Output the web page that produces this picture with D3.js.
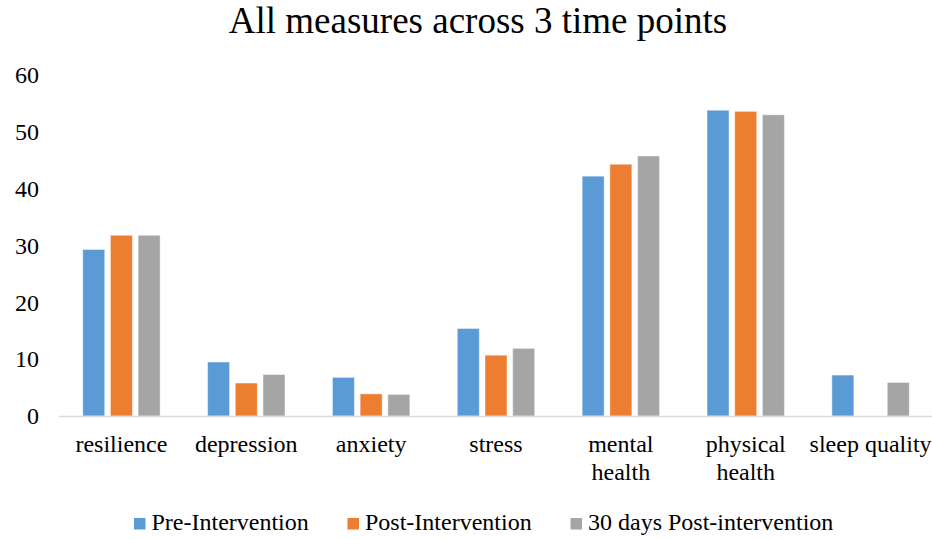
<!DOCTYPE html>
<html>
<head>
<meta charset="utf-8">
<script src="https://cdn.jsdelivr.net/npm/d3@7"></script>
<style>
  html, body { margin: 0; padding: 0; background: #fff; }
  svg { display: block; }
  svg text { font-family: "Liberation Serif", "Times New Roman", serif !important; }
</style>
</head>
<body>
<svg id="chart" width="932" height="539"></svg>
<script>
const title = "All measures across 3 time points";
const categories = ["resilience", "depression", "anxiety", "stress", "mental health", "physical health", "sleep quality"];
const seriesNames = ["Pre-Intervention", "Post-Intervention", "30 days Post-intervention"];
const preValues = [29.3, 9.5, 6.8, 15.4, 42.2, 53.8, 7.2];
const postValues = [31.8, 5.8, 3.9, 10.7, 44.3, 53.6, 0];
const followValues = [31.8, 7.3, 3.8, 11.9, 45.75, 53.0, 5.9];
const yTicks = [0, 10, 20, 30, 40, 50, 60];
const colors = ["#5B9BD5", "#ED7D31", "#A5A5A5"];

const seriesValues = [preValues, postValues, followValues];
const FONT = '"Liberation Serif", "Times New Roman", serif';

const svg = d3.select("#chart");

const x0 = d3.scaleBand().domain(categories).range([59, 933]).padding(0);
const groupW = 77.4;
const x1 = d3.scaleBand().domain(seriesNames).range([0, groupW]).paddingInner(0.206).paddingOuter(0);
const y = d3.scaleLinear().domain([0, 60]).range([416, 75]);

// title
svg.append("text")
  .attr("x", 478).attr("y", 33)
  .attr("text-anchor", "middle")
  .style("font-family", FONT)
  .style("font-size", "37px")
  .attr("fill", "#000")
  .text(title);

// y tick labels
const yAxis = d3.axisLeft(y).tickValues(yTicks).tickSize(0).tickPadding(0);
const yg = svg.append("g").attr("transform", "translate(39,0)").call(yAxis);
yg.attr("font-family", null).attr("font-size", null);
yg.select(".domain").remove();
yg.selectAll("text")
  .style("font-family", FONT)
  .style("font-size", "24px")
  .attr("fill", "#000");

// bars
const groups = svg.append("g").selectAll("g")
  .data(categories)
  .join("g")
  .attr("transform", d => `translate(${x0(d) + (x0.bandwidth() - groupW) / 2},0)`);

groups.selectAll("rect")
  .data((c, i) => seriesNames.map((s, j) => ({ s, j, v: seriesValues[j][i] })).filter(d => d.v > 0))
  .join("rect")
  .attr("x", d => x1(d.s))
  .attr("width", x1.bandwidth())
  .attr("y", d => y(d.v))
  .attr("height", d => y(0) - y(d.v))
  .attr("fill", d => colors[d.j])
  .attr("stroke", "#fff")
  .attr("stroke-opacity", 0.45)
  .attr("stroke-width", 1);

// x axis line + labels
const xAxis = d3.axisBottom(x0).tickSize(0).tickPadding(0);
const xg = svg.append("g").attr("transform", `translate(0,${y(0)})`).call(xAxis);
xg.attr("font-family", null).attr("font-size", null);
xg.select(".domain").attr("stroke", "#D9D9D9").attr("stroke-width", 1.5).attr("d", `M59,0.5H933`);
xg.selectAll("text")
  .style("font-family", FONT)
  .style("font-size", "24px")
  .attr("fill", "#000")
  .attr("y", 36)
  .attr("dy", 0)
  .each(function(d) {
    const t = d3.select(this);
    t.text(d);
    if (this.getComputedTextLength() > x0.bandwidth()) {
      const words = d.split(" ");
      t.text(null);
      words.forEach((w, k) => {
        t.append("tspan").attr("x", 0).attr("y", 36 + k * 28).text(w);
      });
    }
  });

// legend
const legendItems = [
  { name: seriesNames[0], color: colors[0], x: 134 },
  { name: seriesNames[1], color: colors[1], x: 347.5 },
  { name: seriesNames[2], color: colors[2], x: 570.5 }
];
const lg = svg.append("g").selectAll("g").data(legendItems).join("g")
  .attr("transform", d => `translate(${d.x},0)`);
lg.append("rect").attr("x", 0).attr("y", 518).attr("width", 11.5).attr("height", 11.5)
  .attr("fill", d => d.color);
lg.append("text").attr("x", 17.5).attr("y", 530)
  .style("font-family", FONT)
  .style("font-size", "24px")
  .attr("fill", "#000")
  .text(d => d.name);
</script>
</body>
</html>
